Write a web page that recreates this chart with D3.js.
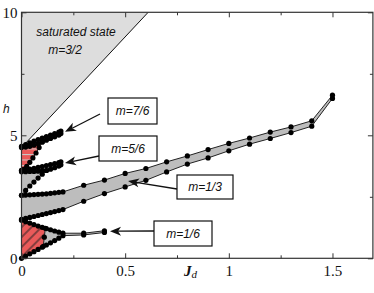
<!DOCTYPE html>
<html>
<head>
<meta charset="utf-8">
<script src="https://cdn.jsdelivr.net/npm/d3@7"></script>
<style>
  body { margin: 0; background: #fff; }
</style>
</head>
<body>
<div id="content"></div>
<script>
// Jd grids
var jdM13 = [0, 0.02, 0.04, 0.06, 0.08, 0.1, 0.12, 0.14, 0.16, 0.18, 0.2,
             0.3, 0.4, 0.5, 0.6, 0.7, 0.8, 0.9, 1.0, 1.1, 1.2, 1.3, 1.4, 1.5];
var m13Upper = [2.56, 2.57, 2.58, 2.59, 2.60, 2.61, 2.62, 2.64, 2.66, 2.68, 2.70,
                2.97, 3.18, 3.45, 3.65, 3.92, 4.16, 4.42, 4.67, 4.89, 5.13, 5.34, 5.59, 6.63];
var m13Lower = [1.58, 1.62, 1.66, 1.70, 1.74, 1.78, 1.82, 1.86, 1.90, 1.94, 1.98,
                2.32, 2.63, 2.90, 3.17, 3.51, 3.83, 4.08, 4.37, 4.64, 4.87, 5.11, 5.37, 6.50];

var jdM16 = [0, 0.02, 0.04, 0.06, 0.08, 0.1, 0.12, 0.14, 0.16, 0.18, 0.2, 0.3, 0.4];
var m16Upper = [1.55, 1.49, 1.43, 1.37, 1.31, 1.26, 1.21, 1.16, 1.11, 1.06, 1.02, 1.02, 1.12];
var m16Lower = [0, 0.09, 0.18, 0.27, 0.36, 0.45, 0.54, 0.63, 0.72, 0.82, 0.92, 0.95, 1.05];

var jdSmall = [0, 0.02, 0.04, 0.06, 0.08, 0.1, 0.12, 0.14, 0.16, 0.18, 0.19];
var m56Upper = [3.56, 3.60, 3.63, 3.66, 3.70, 3.73, 3.77, 3.81, 3.85, 3.89, 3.92];
var m56Lower = [3.52, 3.52, 3.53, 3.53, 3.54, 3.55, 3.57, 3.62, 3.68, 3.75, 3.80];
var m76Upper = [4.55, 4.62, 4.69, 4.76, 4.83, 4.89, 4.95, 5.01, 5.07, 5.13, 5.17];
var m76Lower = [4.50, 4.52, 4.55, 4.60, 4.66, 4.73, 4.80, 4.87, 4.94, 5.01, 5.07];

// phase boundaries closing the small regions near Jd = 0
var jdDiagA = [0.1, 0.085, 0.07, 0.055, 0.04, 0.025, 0.01, 0];
var hDiagA = [4.73, 4.50, 4.28, 4.08, 3.90, 3.74, 3.62, 3.58];
var jdDiagB = [0, 0.02, 0.04, 0.06, 0.08, 0.1, 0.12];
var hDiagB = [2.56, 2.76, 2.94, 3.10, 3.26, 3.42, 3.57];
var jdDiagC = [0.115, 0.11, 0.105];
var hDiagC = [1.22, 0.86, 0.49];

// saturation line
var jdSat = [0, 0.611];
var hSat = [4.5, 10];

var xMajor = [0, 0.5, 1, 1.5];
var xMinor = [0.25, 0.75, 1.25];
var yMajor = [0, 5, 10];
var yMinor = [2.5, 7.5];

var serif = "'Liberation Serif', 'Times New Roman', 'DejaVu Serif', serif";
var sans = "'Liberation Sans', Arial, sans-serif";

function pts(jd, h) {
  return jd.map(function(j, i) { return [j, h[i]]; });
}

var width = 374, height = 293;

var svg = d3.select("div#content").append("svg")
  .attr("width", width)
  .attr("height", height);

var x = d3.scaleLinear().domain([0, 1.695]).range([21.5, 372.9]);
var y = d3.scaleLinear().domain([0, 10]).range([258.3, 12.3]);

var defs = svg.append("defs");
var hatch = defs.append("pattern")
  .attr("id", "hatch")
  .attr("patternUnits", "userSpaceOnUse")
  .attr("width", 7).attr("height", 7)
  .attr("patternTransform", "rotate(45)");
hatch.append("rect").attr("width", 7).attr("height", 7).attr("fill", "#e95a5a");
hatch.append("line").attr("x1", 1).attr("y1", 0).attr("x2", 1).attr("y2", 7)
  .attr("stroke", "#222").attr("stroke-width", 1);

var stripes = defs.append("pattern")
  .attr("id", "stripes")
  .attr("patternUnits", "userSpaceOnUse")
  .attr("width", 8).attr("height", 5.5);
stripes.append("rect").attr("width", 8).attr("height", 5.5).attr("fill", "#e95a5a");
stripes.append("line").attr("x1", 0).attr("y1", 0.5).attr("x2", 8).attr("y2", 0.5)
  .attr("stroke", "#c9c9c9").attr("stroke-width", 1);

var line = d3.line()
  .x(function(d) { return x(d[0]); })
  .y(function(d) { return y(d[1]); });

// saturated state triangle
var sat = pts(jdSat, hSat);
svg.append("path")
  .attr("d", line(sat.concat([[0, 10]])) + "Z")
  .attr("fill", "#dddddd");

// m=1/3 region (with its extension up to m=5/6 near the axis)
var m13Poly = pts(jdM13, m13Lower)
  .concat(pts(jdM13, m13Upper).reverse())
  .concat(pts(jdDiagB, hDiagB))
  .concat(pts(jdSmall, m56Lower).filter(function(d) { return d[0] <= 0.12; }).reverse());
svg.append("path").attr("d", line(m13Poly) + "Z").attr("fill", "#bdbdbd");

// m=1/6 region
var m16Poly = pts(jdM16, m16Upper).concat(pts(jdM16, m16Lower).reverse());
svg.append("path").attr("d", line(m16Poly) + "Z").attr("fill", "#bdbdbd");

// m=5/6 and m=7/6 thin bands
svg.append("path")
  .attr("d", line(pts(jdSmall, m56Upper).concat(pts(jdSmall, m56Lower).reverse())) + "Z")
  .attr("fill", "#bdbdbd");
svg.append("path")
  .attr("d", line(pts(jdSmall, m76Upper).concat(pts(jdSmall, m76Lower).reverse())) + "Z")
  .attr("fill", "#bdbdbd");

// red hatched region
var redA = pts(jdM16, m16Upper).filter(function(d) { return d[0] <= 0.1; })
  .concat(pts(jdDiagC, hDiagC))
  .concat(pts(jdM16, m16Lower).filter(function(d) { return d[0] <= 0.1; }).reverse());
svg.append("path").attr("d", line(redA) + "Z").attr("fill", "url(#hatch)");

// red striped region
var redB = pts(jdSmall, m76Lower).filter(function(d) { return d[0] <= 0.1; })
  .concat(pts(jdDiagA, hDiagA));
svg.append("path").attr("d", line(redB) + "Z").attr("fill", "url(#stripes)");

// boundary lines
svg.append("path").attr("d", line(sat)).attr("fill", "none")
  .attr("stroke", "#111").attr("stroke-width", 1);

var curves = [
  pts(jdM13, m13Upper), pts(jdM13, m13Lower),
  pts(jdM16, m16Upper), pts(jdM16, m16Lower),
  pts(jdSmall, m56Upper), pts(jdSmall, m56Lower),
  pts(jdSmall, m76Upper), pts(jdSmall, m76Lower),
  pts(jdDiagA, hDiagA), pts(jdDiagB, hDiagB), pts(jdDiagC, hDiagC)
];

svg.selectAll(".curve")
  .data(curves)
  .enter().append("path")
  .attr("class", "curve")
  .attr("d", line)
  .attr("fill", "none")
  .attr("stroke", "#222")
  .attr("stroke-width", 1);

svg.selectAll(".dots")
  .data(curves)
  .enter().append("g")
  .attr("class", "dots")
  .selectAll("circle")
  .data(function(d) { return d; })
  .enter().append("circle")
  .attr("r", 2.6)
  .attr("cx", function(d) { return x(d[0]); })
  .attr("cy", function(d) { return y(d[1]); })
  .attr("fill", "#000");

// axes (ticks inside the frame)
var gx = svg.append("g")
  .attr("transform", "translate(0," + y(0) + ")")
  .call(d3.axisBottom(x).tickValues(xMajor).tickSize(-5).tickPadding(7)
    .tickFormat(function(d) { return d === 0 ? "0" : String(d); }));
svg.append("g")
  .attr("transform", "translate(0," + y(0) + ")")
  .call(d3.axisBottom(x).tickValues(xMinor).tickSize(-3).tickFormat(""));
svg.append("g")
  .attr("transform", "translate(0," + y(10) + ")")
  .call(d3.axisTop(x).tickValues(xMajor).tickSize(-5).tickFormat(""));
svg.append("g")
  .attr("transform", "translate(0," + y(10) + ")")
  .call(d3.axisTop(x).tickValues(xMinor).tickSize(-3).tickFormat(""));
var gy = svg.append("g")
  .attr("transform", "translate(" + x(0) + ",0)")
  .call(d3.axisLeft(y).tickValues(yMajor).tickSize(-5).tickPadding(4));
svg.append("g")
  .attr("transform", "translate(" + x(0) + ",0)")
  .call(d3.axisLeft(y).tickValues(yMinor).tickSize(-3).tickFormat(""));
svg.append("g")
  .attr("transform", "translate(" + x(1.695) + ",0)")
  .call(d3.axisRight(y).tickValues(yMajor).tickSize(-5).tickFormat(""));
svg.append("g")
  .attr("transform", "translate(" + x(1.695) + ",0)")
  .call(d3.axisRight(y).tickValues(yMinor).tickSize(-3).tickFormat(""));

svg.selectAll(".domain").remove();
svg.selectAll(".tick line").attr("stroke", "#333");
gx.selectAll("text")
  .attr("font-family", serif)
  .attr("font-size", 15)
  .attr("fill", "#111");
gy.selectAll("text")
  .attr("font-family", serif)
  .attr("font-size", 15)
  .attr("fill", "#111");

svg.append("rect")
  .attr("x", x(0)).attr("y", y(10))
  .attr("width", x(1.695) - x(0)).attr("height", y(0) - y(10))
  .attr("fill", "none")
  .attr("stroke", "#333")
  .attr("stroke-width", 1.2);

// axis titles
svg.append("text")
  .attr("x", 3).attr("y", 113)
  .attr("font-family", sans)
  .attr("font-style", "italic")
  .attr("font-size", 12)
  .attr("fill", "#111")
  .text("h");

var jl = svg.append("text")
  .attr("x", 184).attr("y", 276)
  .attr("font-family", serif)
  .attr("font-style", "italic")
  .attr("font-weight", "bold")
  .attr("font-size", 15)
  .attr("fill", "#111")
  .text("J");
jl.append("tspan")
  .attr("dy", 2)
  .attr("font-size", 11)
  .attr("font-weight", "normal")
  .text("d");

function note(t, px, py) {
  return svg.append("text")
    .attr("x", px).attr("y", py)
    .attr("text-anchor", "middle")
    .attr("font-family", sans)
    .attr("font-style", "italic")
    .attr("font-size", 12)
    .attr("fill", "#111")
    .text(t);
}

note("saturated state", 76, 36);
note("m=3/2", 65, 54);

var notes = [
  {text: "m=7/6", x0: 108, y0: 98, x1: 157, y1: 124, ax: 100, ay: 114, tip: [0.21, 5.14]},
  {text: "m=5/6", x0: 99, y0: 136, x1: 157, y1: 161, ax: 99, ay: 156, tip: [0.21, 3.87]},
  {text: "m=1/3", x0: 177, y0: 175, x1: 233, y1: 199, ax: 177, ay: 189, tip: [0.514, 3.14]},
  {text: "m=1/6", x0: 154, y0: 221, x1: 212, y1: 246, ax: 154, ay: 231, tip: [0.427, 1.1]}
];

notes.forEach(function(n) {
  svg.append("rect")
    .attr("x", n.x0).attr("y", n.y0)
    .attr("width", n.x1 - n.x0).attr("height", n.y1 - n.y0)
    .attr("fill", "#fff")
    .attr("stroke", "#111")
    .attr("stroke-width", 1.2);
  note(n.text, (n.x0 + n.x1) / 2, (n.y0 + n.y1) / 2 + 4);

  var tx = x(n.tip[0]), ty = y(n.tip[1]);
  var ang = Math.atan2(ty - n.ay, tx - n.ax);
  var len = 11, wid = 4.5;
  var bx = tx - len * Math.cos(ang), by = ty - len * Math.sin(ang);
  svg.append("line")
    .attr("x1", n.ax).attr("y1", n.ay).attr("x2", bx + 3 * Math.cos(ang)).attr("y2", by + 3 * Math.sin(ang))
    .attr("stroke", "#111").attr("stroke-width", 1.3);
  var nx = -Math.sin(ang), ny = Math.cos(ang);
  var cx = tx - (len - 3) * Math.cos(ang), cy = ty - (len - 3) * Math.sin(ang);
  svg.append("path")
    .attr("d", "M" + tx + "," + ty +
      "L" + (bx + nx * wid) + "," + (by + ny * wid) +
      "L" + cx + "," + cy +
      "L" + (bx - nx * wid) + "," + (by - ny * wid) + "Z")
    .attr("fill", "#111");
});
</script>
</body>
</html>
